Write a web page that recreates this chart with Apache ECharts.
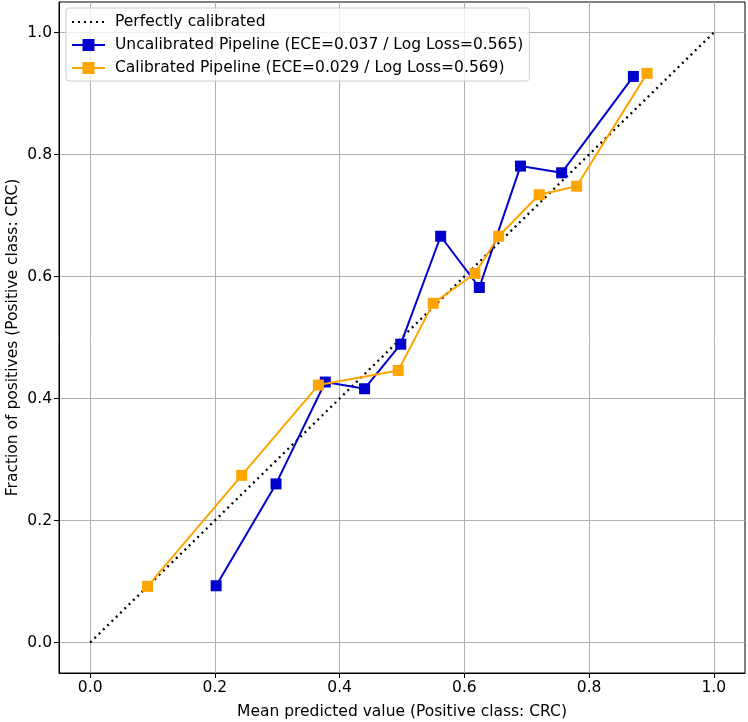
<!DOCTYPE html>
<html>
<head>
<meta charset="utf-8">
<script src="https://cdn.jsdelivr.net/npm/echarts@6/dist/echarts.min.js"></script>
<style>html,body{margin:0;padding:0;background:#fff}#c{width:748px;height:722px}</style>
</head>
<body>
<div id="c"></div>
<script>
const tickValues = [0.0, 0.2, 0.4, 0.6, 0.8, 1.0];
const diagonal = [[0, 0], [1, 1]];
const uncalX = [0.202, 0.298, 0.377, 0.440, 0.498, 0.562, 0.624, 0.690, 0.756, 0.871];
const uncalY = [0.093, 0.260, 0.427, 0.416, 0.489, 0.666, 0.582, 0.781, 0.770, 0.928];
const calX = [0.092, 0.243, 0.366, 0.494, 0.550, 0.617, 0.655, 0.720, 0.780, 0.893];
const calY = [0.092, 0.274, 0.422, 0.446, 0.556, 0.605, 0.666, 0.734, 0.748, 0.933];
const names = ['Perfectly calibrated',
  'Uncalibrated Pipeline (ECE=0.037 / Log Loss=0.565)',
  'Calibrated Pipeline (ECE=0.029 / Log Loss=0.569)'];

const font = 'DejaVu Sans';
const fs = 15.5;
function axis(name, gap) {
  return {
    type: 'value', min: -0.05, max: 1.05,
    name: name, nameLocation: 'middle', nameGap: gap, nameMoveOverlap: false,
    nameTextStyle: {fontFamily: font, fontSize: fs, color: '#000'},
    axisLine: {show: true, onZero: false, lineStyle: {color: '#000', width: 1}},
    axisTick: {show: true, length: 5, customValues: tickValues, lineStyle: {color: '#000'}},
    axisLabel: {customValues: tickValues, fontFamily: font, fontSize: fs, color: '#000', margin: 7,
      formatter: v => v.toFixed(1)},
    splitLine: {show: true, lineStyle: {color: '#b0b0b0', width: 1}}
  };
}
const chart = echarts.init(document.getElementById('c'), null, {renderer: 'canvas'});
chart.setOption({
  animation: false,
  grid: {left: 59, right: 3, top: 2, bottom: 49, show: true, borderColor: '#000', borderWidth: 1,
    outerBoundsMode: 'none', containLabel: false},
  xAxis: axis('Mean predicted value (Positive class: CRC)', 31),
  yAxis: axis('Fraction of positives (Positive class: CRC)', 38),
  legend: {
    orient: 'vertical', left: 66, top: 8, padding: [6, 6, 5, 5], itemGap: 7,
    itemWidth: 33, itemHeight: 15,
    backgroundColor: 'rgba(255,255,255,0.8)', borderColor: '#cccccc', borderWidth: 1, borderRadius: 3,
    textStyle: {fontFamily: font, fontSize: fs, color: '#000', padding: [0, 0, 0, 5]},
    data: [
      {name: names[0], itemStyle: {color: 'rgba(0,0,0,0)', borderWidth: 0, opacity: 0}},
      {name: names[1]},
      {name: names[2]}
    ]
  },
  series: [
    {name: names[0], type: 'line', data: diagonal, symbol: 'none',
      lineStyle: {color: '#000', width: 2.3, type: [2, 4]}, itemStyle: {color: '#000'}, z: 2},
    {name: names[1], type: 'line', data: uncalX.map((x, i) => [x, uncalY[i]]),
      symbol: 'rect', symbolSize: 11, lineStyle: {color: '#0000CD', width: 2},
      itemStyle: {color: '#0000CD'}, z: 3},
    {name: names[2], type: 'line', data: calX.map((x, i) => [x, calY[i]]),
      symbol: 'rect', symbolSize: 11, lineStyle: {color: '#FFA500', width: 2},
      itemStyle: {color: '#FFA500'}, z: 4}
  ]
});
</script>
</body>
</html>
